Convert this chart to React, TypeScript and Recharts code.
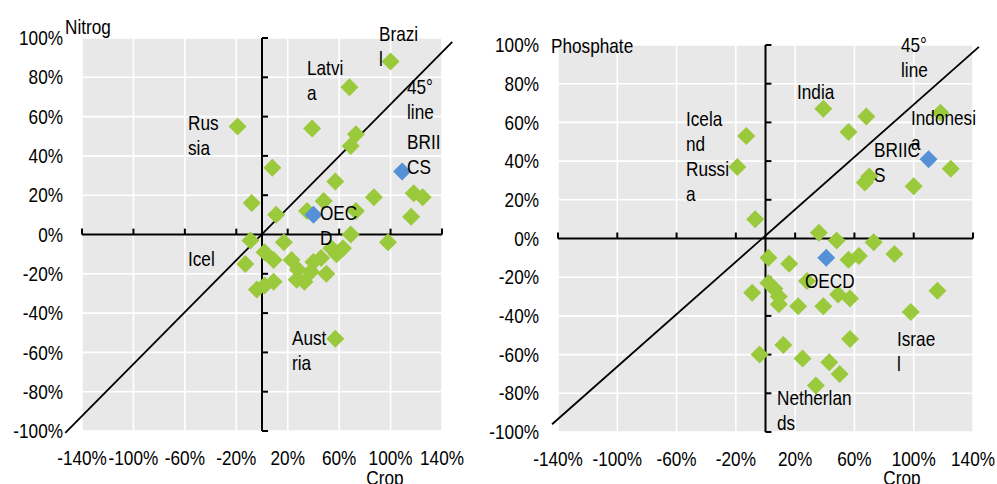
import { ScatterChart, Scatter, XAxis, YAxis, CartesianGrid, ReferenceLine } from "recharts";

const FONT = '"Liberation Sans", Arial, sans-serif';
const FONT_SIZE = 20;
const SQUEEZE = 0.86; // Arial squeezed to Arial Narrow proportions
const GREEN = "#9bc93c";
const BLUE = "#5690d6";

// axis ticks shared by both panels (percent change)
const cropTicks = [-140, -100, -60, -20, 20, 60, 100, 140];
const useTicks = [-100, -80, -60, -40, -20, 0, 20, 40, 60, 80, 100];

// Nitrogen: change in crop output (x) vs change in fertiliser use (y)
const nitrogenCountries = [
  { x: 100, y: 88 }, { x: 68, y: 75 }, { x: -19, y: 55 }, { x: 39, y: 54 },
  { x: 73, y: 51 }, { x: 69, y: 45 }, { x: 8, y: 34 }, { x: 57, y: 27 },
  { x: 118, y: 21 }, { x: 125, y: 19 }, { x: 87, y: 19 }, { x: -8, y: 16 },
  { x: 48, y: 17 }, { x: 35, y: 12 }, { x: 73, y: 12 }, { x: 11, y: 10 },
  { x: 116, y: 9 }, { x: 69, y: 0 }, { x: 98, y: -4 }, { x: -9, y: -3 },
  { x: 17, y: -4 }, { x: -13, y: -15 }, { x: 2, y: -9 }, { x: 9, y: -13 },
  { x: 23, y: -13 }, { x: 28, y: -18 }, { x: 40, y: -14 }, { x: 46, y: -12 },
  { x: 54, y: -7 }, { x: 63, y: -7 }, { x: 58, y: -10 }, { x: 50, y: -20 },
  { x: 33, y: -24 }, { x: 27, y: -23 }, { x: 38, y: -19 }, { x: 9, y: -24 },
  { x: 2, y: -26 }, { x: -4, y: -28 }, { x: 57, y: -53 },
];
const nitrogenAggregates = [
  { x: 40, y: 10 },
  { x: 109, y: 32 },
];

// Phosphate: change in crop output (x) vs change in fertiliser use (y)
const phosphateCountries = [
  { x: 39, y: 67 }, { x: 68, y: 63 }, { x: 118, y: 65 }, { x: 56, y: 55 },
  { x: -13, y: 53 }, { x: -19, y: 37 }, { x: 125, y: 36 }, { x: 67, y: 29 },
  { x: 70, y: 32 }, { x: 100, y: 27 }, { x: -7, y: 10 }, { x: 36, y: 3 },
  { x: 48, y: -1 }, { x: 73, y: -2 }, { x: 87, y: -8 }, { x: 56, y: -11 },
  { x: 63, y: -9 }, { x: 2, y: -10 }, { x: 16, y: -13 }, { x: 2, y: -23 },
  { x: 6, y: -26 }, { x: 9, y: -30 }, { x: 9, y: -34 }, { x: -9, y: -28 },
  { x: 28, y: -22 }, { x: 22, y: -35 }, { x: 39, y: -35 }, { x: 49, y: -29 },
  { x: 57, y: -31 }, { x: 116, y: -27 }, { x: 98, y: -38 }, { x: 57, y: -52 },
  { x: 12, y: -55 }, { x: -4, y: -60 }, { x: 25, y: -62 }, { x: 43, y: -64 },
  { x: 50, y: -70 }, { x: 34, y: -76 },
];
const phosphateAggregates = [
  { x: 41, y: -10 },
  { x: 110, y: 41 },
];

type Note = { x: number; y: number; lines: string[]; anchor?: "start" | "middle" };

const nitrogenNotes: Note[] = [
  { x: 65, y: 34, lines: ["Nitrog"] },
  { x: 379, y: 41, lines: ["Brazi", "l"] },
  { x: 307, y: 75, lines: ["Latvi", "a"] },
  { x: 407, y: 94, lines: ["45°", "line"] },
  { x: 407, y: 149, lines: ["BRII", "CS"] },
  { x: 188, y: 130, lines: ["Rus", "sia"] },
  { x: 320, y: 220, lines: ["OEC", "D"] },
  { x: 188, y: 266, lines: ["Icel"] },
  { x: 292, y: 345, lines: ["Aust", "ria"] },
  { x: 385, y: 485, lines: ["Crop"], anchor: "middle" },
];

const phosphateNotes: Note[] = [
  { x: 71, y: 53, lines: ["Phosphate"] },
  { x: 421, y: 52, lines: ["45°", "line"] },
  { x: 317, y: 99, lines: ["India"] },
  { x: 206, y: 126, lines: ["Icela", "nd", "Russi", "a"] },
  { x: 431, y: 125, lines: ["Indonesi", "a"] },
  { x: 394, y: 157, lines: ["BRIIC", "S"] },
  { x: 325, y: 288, lines: ["OECD"] },
  { x: 417, y: 346, lines: ["Israe", "l"] },
  { x: 297, y: 405, lines: ["Netherlan", "ds"] },
  { x: 422, y: 485, lines: ["Crop"], anchor: "middle" },
];

const Diamond = (props: any) => {
  const { cx, cy, fill } = props;
  const r = 9;
  return (
    <path
      d={`M${cx},${cy - r}L${cx + r},${cy}L${cx},${cy + r}L${cx - r},${cy}Z`}
      fill={fill}
    />
  );
};

// condensed text: anchored at (x, y) and squeezed horizontally
function NarrowText({
  x,
  y,
  anchor = "start",
  dy,
  children,
}: {
  x: number;
  y: number;
  anchor?: "start" | "middle" | "end";
  dy?: string;
  children: React.ReactNode;
}) {
  return (
    <text
      transform={`translate(${x},${y}) scale(${SQUEEZE},1)`}
      x={0}
      y={0}
      dy={dy}
      fontFamily={FONT}
      fontSize={FONT_SIZE}
      fill="#000"
      textAnchor={anchor}
    >
      {children}
    </text>
  );
}

const XTick = (props: any) => (
  <NarrowText x={props.x} y={props.y} anchor="middle" dy="0.71em">
    {`${props.payload.value}%`}
  </NarrowText>
);

const YTick = (props: any) => (
  <NarrowText x={props.x} y={props.y} anchor="end" dy="0.355em">
    {`${props.payload.value}%`}
  </NarrowText>
);

interface PanelProps {
  left: number;
  width: number;
  top: number;
  right: number;
  yAxisWidth: number;
  xAxisHeight: number;
  countries: { x: number; y: number }[];
  aggregates: { x: number; y: number }[];
  diagonal: [{ x: number; y: number }, { x: number; y: number }];
  xTickLen: number;
  yTickLen: number;
  notes: Note[];
}

function Panel(p: PanelProps) {
  return (
    <div style={{ position: "absolute", left: p.left, top: 0, width: p.width, height: 484 }}>
      <ScatterChart
        width={p.width}
        height={484}
        margin={{ top: p.top, right: p.right, bottom: 0, left: 0 }}
      >
        <CartesianGrid fill="#e8e8e8" stroke="#fff" strokeWidth={1.6} strokeOpacity={1} />
        <XAxis
          type="number"
          dataKey="x"
          domain={[-140, 140]}
          ticks={cropTicks}
          interval={0}
          allowDataOverflow
          axisLine={false}
          tickLine={false}
          tickSize={0}
          tickMargin={20}
          height={p.xAxisHeight}
          tick={XTick}
        />
        <YAxis
          type="number"
          dataKey="y"
          domain={[-100, 100]}
          ticks={useTicks}
          interval={0}
          allowDataOverflow
          axisLine={false}
          tickLine={false}
          tickSize={0}
          tickMargin={19}
          width={p.yAxisWidth}
          tick={YTick}
        />
        <Scatter data={p.countries} fill={GREEN} shape={Diamond} isAnimationActive={false} />
        <Scatter data={p.aggregates} fill={BLUE} shape={Diamond} isAnimationActive={false} />
        <ReferenceLine y={0} stroke="#000" strokeWidth={2} />
        <ReferenceLine x={0} stroke="#000" strokeWidth={2} />
        {cropTicks.map((t) => (
          <ReferenceLine
            key={`xt${t}`}
            segment={[{ x: t, y: 0 }, { x: t, y: p.xTickLen }]}
            stroke="#000"
            strokeWidth={2}
          />
        ))}
        {useTicks
          .filter((t) => t !== 0)
          .map((t) => (
            <ReferenceLine
              key={`yt${t}`}
              segment={[{ x: 0, y: t }, { x: p.yTickLen, y: t }]}
              stroke="#000"
              strokeWidth={2}
            />
          ))}
        <ReferenceLine segment={p.diagonal} stroke="#000" strokeWidth={1.8} ifOverflow="visible" />
      </ScatterChart>
      <svg
        width={p.width}
        height={484}
        style={{ position: "absolute", left: 0, top: 0, pointerEvents: "none", overflow: "visible" }}
      >
        {p.notes.map((n, i) =>
          n.lines.map((line, j) => (
            <NarrowText key={`${i}-${j}`} x={n.x} y={n.y + j * 25} anchor={n.anchor ?? "start"}>
              {line}
            </NarrowText>
          ))
        )}
      </svg>
    </div>
  );
}

export default function App() {
  return (
    <div style={{ position: "absolute", left: 0, top: 0, width: 997, height: 484, background: "#fff", overflow: "hidden" }}>
      <Panel
        left={0}
        width={480}
        top={38}
        right={38}
        yAxisWidth={82}
        xAxisHeight={53}
        countries={nitrogenCountries}
        aggregates={nitrogenAggregates}
        diagonal={[{ x: -153, y: -101 }, { x: 148, y: 98 }]}
        xTickLen={3}
        yTickLen={4.7}
        notes={nitrogenNotes}
      />
      <Panel
        left={480}
        width={517}
        top={45}
        right={24}
        yAxisWidth={78}
        xAxisHeight={52}
        countries={phosphateCountries}
        aggregates={phosphateAggregates}
        diagonal={[{ x: -144, y: -96 }, { x: 144, y: 99 }]}
        xTickLen={3.1}
        yTickLen={4}
        notes={phosphateNotes}
      />
    </div>
  );
}
